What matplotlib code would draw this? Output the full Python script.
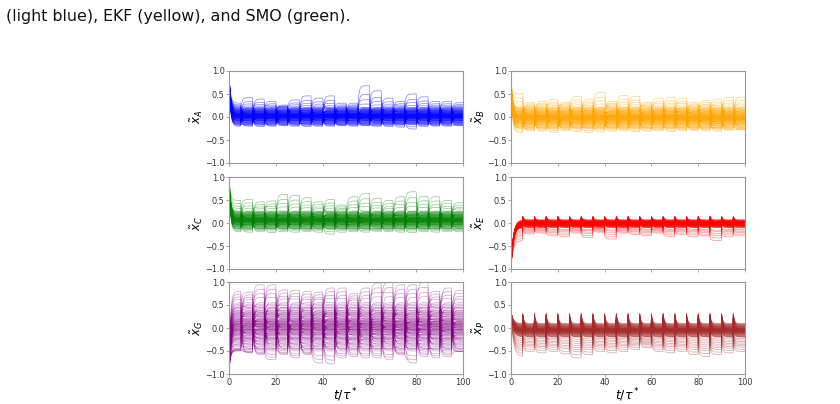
import numpy as np
import matplotlib
matplotlib.use("Agg")
import matplotlib.pyplot as plt

# switching times every 5 units, 20 segments
seg_len = 5.0
n_seg = 20

# bulk spread (fractions between bulk_lo and bulk_hi), shared by all panels
bulk_frac = [0.00, 0.03, 0.06, 0.09, 0.12, 0.15, 0.18, 0.20, 0.22, 0.24,
             0.26, 0.28, 0.30, 0.32, 0.33, 0.35, 0.36, 0.38, 0.39, 0.40,
             0.41, 0.42, 0.43, 0.44, 0.45, 0.46, 0.47, 0.48, 0.49, 0.50,
             0.505, 0.51, 0.52, 0.53, 0.54, 0.55, 0.56, 0.57, 0.58, 0.59,
             0.60, 0.61, 0.62, 0.64, 0.65, 0.67, 0.68, 0.70, 0.72, 0.74,
             0.76, 0.78, 0.80, 0.82, 0.85, 0.88, 0.91, 0.94, 0.97, 1.00,
             0.05, 0.14, 0.25, 0.34, 0.37, 0.445, 0.475, 0.535, 0.555, 0.63,
             0.66, 0.71, 0.75, 0.79, 0.84, 0.90, 0.27, 0.575, 0.435, 0.615]

# per panel: extreme upper / lower level of each segment
A_top = [0.30, 0.42, 0.39, 0.34, 0.26, 0.37, 0.46, 0.41, 0.46, 0.30,
         0.30, 0.68, 0.57, 0.41, 0.34, 0.50, 0.44, 0.34, 0.34, 0.31]
A_bot = [-0.20, -0.20, -0.21, -0.20, -0.19, -0.20, -0.21, -0.20, -0.20, -0.19,
         -0.20, -0.19, -0.20, -0.21, -0.22, -0.26, -0.21, -0.20, -0.20, -0.19]

B_top = [0.51, 0.32, 0.34, 0.38, 0.32, 0.45, 0.39, 0.54, 0.34, 0.47,
         0.45, 0.32, 0.41, 0.43, 0.41, 0.32, 0.36, 0.39, 0.43, 0.43]
B_bot = [-0.34, -0.30, -0.31, -0.33, -0.30, -0.32, -0.34, -0.33, -0.31, -0.30,
         -0.32, -0.31, -0.30, -0.32, -0.30, -0.29, -0.30, -0.31, -0.29, -0.28]

C_top = [0.49, 0.51, 0.46, 0.48, 0.62, 0.60, 0.55, 0.46, 0.51, 0.39,
         0.57, 0.64, 0.53, 0.49, 0.57, 0.68, 0.58, 0.57, 0.49, 0.44]
C_bot = [-0.19, -0.20, -0.19, -0.21, -0.19, -0.20, -0.19, -0.20, -0.24, -0.20,
         -0.19, -0.20, -0.18, -0.19, -0.20, -0.21, -0.19, -0.20, -0.19, -0.19]

E_top = [0.08] * n_seg
E_bot = [-0.38, -0.24, -0.22, -0.28, -0.30, -0.22, -0.32, -0.20, -0.35, -0.22,
         -0.25, -0.28, -0.22, -0.30, -0.25, -0.30, -0.28, -0.38, -0.30, -0.28]

G_top = [0.80, 0.78, 0.94, 0.94, 0.83, 0.82, 0.80, 0.78, 0.87, 0.87,
         0.75, 0.87, 0.98, 0.99, 0.94, 0.94, 0.99, 0.80, 0.87, 0.82]
G_bot = [-0.47, -0.54, -0.58, -0.69, -0.58, -0.65, -0.58, -0.76, -0.78, -0.65,
         -0.62, -0.65, -0.65, -0.69, -0.58, -0.76, -0.62, -0.65, -0.62, -0.51]

P_top = [0.10] * n_seg
P_bot = [-0.62, -0.51, -0.54, -0.51, -0.56, -0.65, -0.58, -0.51, -0.54, -0.51,
         -0.47, -0.43, -0.51, -0.54, -0.51, -0.58, -0.62, -0.58, -0.54, -0.51]

panels = [
    # label, color, top, bot, bulk_lo, bulk_hi, top tail, bottom tail, start, spike, alpha
    ("A", "blue", A_top, A_bot, -0.17, 0.21, [1.0, 0.6, 0.35, 0.15], [1.0, 0.5], 0.95, 0.0, 0.45),
    ("B", "orange", B_top, B_bot, -0.26, 0.22, [1.0, 0.65, 0.4, 0.2], [1.0, 0.5], 0.75, 0.0, 0.45),
    ("C", "green", C_top, C_bot, -0.14, 0.26, [1.0, 0.7, 0.45, 0.25], [1.0, 0.5], 1.00, 0.0, 0.4),
    ("E", "red", E_top, E_bot, -0.10, 0.07, [], [1.0, 0.8, 0.6, 0.45, 0.3, 0.2], -0.95, 0.08, 0.4),
    ("G", "purple", G_top, G_bot, -0.50, 0.55, [1.0, 0.75, 0.5, 0.3], [1.0, 0.7, 0.4], -0.95, 0.0, 0.35),
    ("P", "brown", P_top, P_bot, -0.20, 0.10, [], [1.0, 0.85, 0.7, 0.6, 0.5, 0.4, 0.3, 0.2, 0.1], 0.35, 0.22, 0.4),
]

t = np.linspace(0, 100, 2001)


def trajectories(top, bot, lo, hi, ttail, btail, x0, spike):
    levels_k = []
    for k in range(n_seg):
        lv = [lo + f * (hi - lo) for f in bulk_frac]
        lv += [hi + f * (top[k] - hi) for f in ttail]
        lv += [lo + f * (bot[k] - lo) for f in btail]
        levels_k.append(lv)
    n = len(levels_k[0])
    # which trajectory sits on which level changes from segment to segment
    perms = [np.argsort((np.arange(n) * (0.6180339 + 0.1173 * k) + 0.29 * k) % 1.0)
             for k in range(n_seg)]
    out = []
    for j in range(n):
        x = np.empty_like(t)
        prev = x0
        for k in range(n_seg):
            L = levels_k[k][perms[k][j]]
            m = (t >= k * seg_len) & (t <= (k + 1) * seg_len)
            dt = t[m] - k * seg_len
            if spike > 0:
                start = x0 if k == 0 else L + spike
                tau = 1.0 if k == 0 else 0.5
            else:
                start = prev
                tau = 0.6 if k == 0 else 0.5
            x[m] = L + (start - L) * np.exp(-dt / tau)
            prev = x[m][-1]
        out.append(x)
    return out


fig = plt.figure(figsize=(8.4, 4.04), dpi=100)
fig.text(6 / 840, 1 - 16 / 404, "(light blue), EKF (yellow), and SMO (green).",
         fontsize=11.4, va="center", ha="left", color="#111111")

lefts = [229 / 840, 511 / 840]
bottoms = [1 - 163 / 404, 1 - 269 / 404, 1 - 374 / 404]
w, h = 234 / 840, 92 / 404

for i, (lab, col, top, bot, lo, hi, ttail, btail, x0, spike, alpha) in enumerate(panels):
    r, c = divmod(i, 2)
    ax = fig.add_axes([lefts[c], bottoms[r], w, h])
    for x in trajectories(top, bot, lo, hi, ttail, btail, x0, spike):
        ax.plot(t, x, color=col, lw=0.55, alpha=alpha)
    ax.set_xlim(0, 100)
    ax.set_ylim(-1.0, 1.0)
    ax.set_yticks([-1.0, -0.5, 0.0, 0.5, 1.0])
    ax.set_xticks([0, 20, 40, 60, 80, 100])
    ax.tick_params(labelsize=5.9, length=2.2, width=0.6, colors="#999999",
                   labelcolor="#333333", pad=1.0)
    for s in ax.spines.values():
        s.set_color("#999999")
        s.set_linewidth(0.8)
    ax.set_ylabel(r"$\tilde{x}_{%s}$" % lab, fontsize=8.5, labelpad=0)
    if r == 2:
        ax.set_xlabel(r"$t/\tau^*$", fontsize=9, labelpad=-1)
    else:
        ax.set_xticklabels([])

fig.savefig("out.png", dpi=100)
